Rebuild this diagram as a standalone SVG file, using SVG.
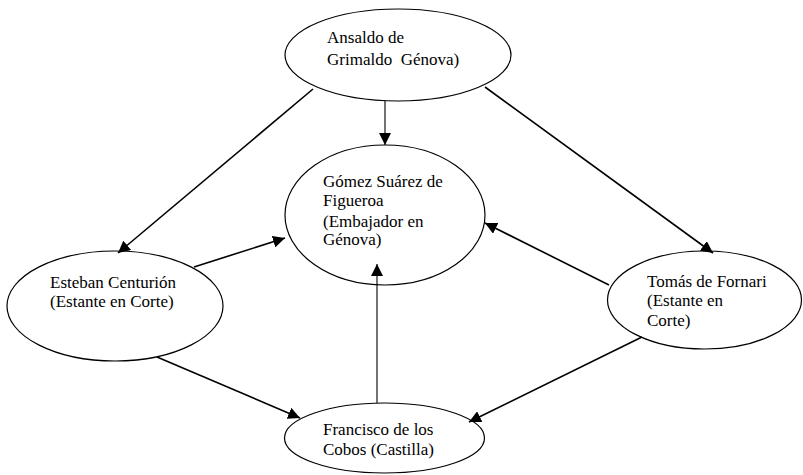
<svg xmlns="http://www.w3.org/2000/svg" width="803" height="475" viewBox="0 0 803 475">
<style>
  .node ellipse { fill: #ffffff; stroke: #000000; stroke-width: 1.2; }
  .node text { font-family: "Times New Roman", "Liberation Serif", Times, "DejaVu Serif", serif; font-size: 17px; fill: #000000; }
  .edge { stroke: #000000; stroke-width: 1.6; fill: none; marker-end: url(#arr); }
  .thin { stroke-width: 1.1; }
</style>
<defs>
  <marker id="arr" viewBox="0 0 12 12" refX="12" refY="6" markerWidth="12" markerHeight="12" markerUnits="userSpaceOnUse" orient="auto">
    <path d="M0,0 L12,6 L0,12 Z" fill="#000000"/>
  </marker>
</defs>
<rect width="803" height="475" fill="#ffffff"/>
<g id="n-ansaldo" class="node">
  <ellipse cx="398" cy="55" rx="113" ry="46"/>
  <text x="327" y="43">Ansaldo de</text>
  <text x="327" y="65" xml:space="preserve">Grimaldo  Génova)</text>
</g>
<g id="n-gomez" class="node">
  <ellipse cx="385" cy="215" rx="100" ry="70"/>
  <text x="323" y="187">Gómez Suárez de</text>
  <text x="323" y="206">Figueroa</text>
  <text x="323" y="227">(Embajador en</text>
  <text x="323" y="245">Génova)</text>
</g>
<g id="n-esteban" class="node">
  <ellipse cx="115" cy="306" rx="108" ry="55"/>
  <text x="50" y="288">Esteban Centurión</text>
  <text x="50" y="307">(Estante en Corte)</text>
</g>
<g id="n-tomas" class="node">
  <ellipse cx="704.5" cy="300" rx="97" ry="49"/>
  <text x="647" y="287">Tomás de Fornari</text>
  <text x="647" y="306">(Estante en</text>
  <text x="647" y="326">Corte)</text>
</g>
<g id="n-francisco" class="node">
  <ellipse cx="384.5" cy="438" rx="100" ry="35"/>
  <text x="323" y="435">Francisco de los</text>
  <text x="323" y="455">Cobos (Castilla)</text>
</g>
<g id="connectors">
  <line class="edge thin" x1="385" y1="101" x2="385" y2="145"/>
  <line class="edge" x1="313" y1="89" x2="118" y2="253"/>
  <line class="edge" x1="485" y1="87" x2="713" y2="253"/>
  <line class="edge" x1="194" y1="267" x2="285" y2="238"/>
  <line class="edge" x1="609" y1="285" x2="485" y2="223"/>
  <line class="edge" x1="157" y1="357" x2="300" y2="418"/>
  <line class="edge" x1="642" y1="337" x2="469" y2="422"/>
  <line class="edge thin" x1="377" y1="403" x2="377" y2="264"/>
</g>
</svg>
